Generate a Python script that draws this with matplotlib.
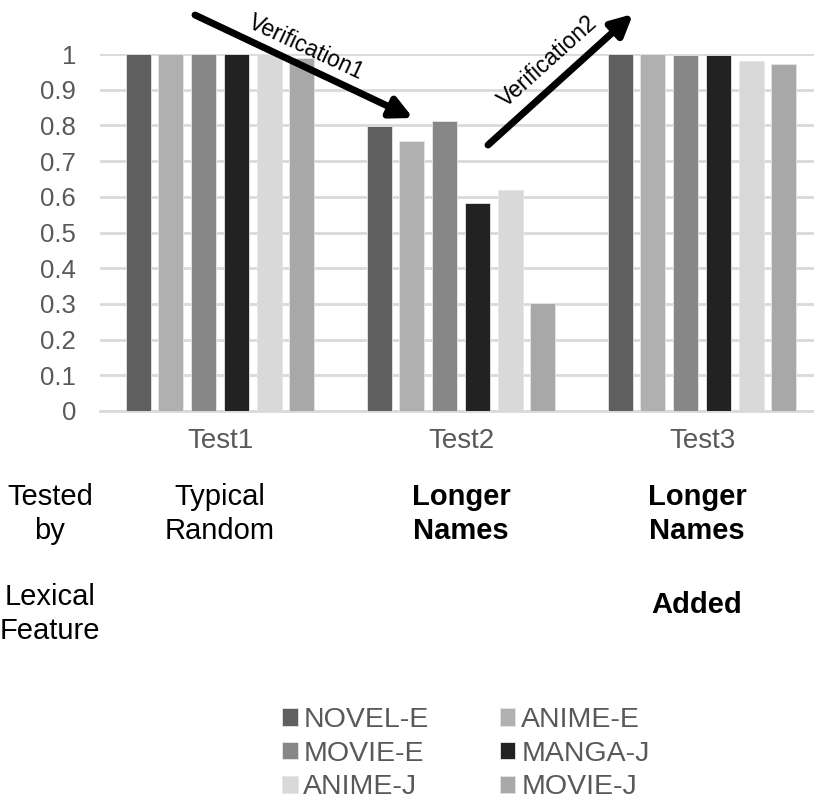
import numpy as np
import matplotlib.pyplot as plt
import matplotlib.patheffects as pe

plt.rcParams['font.family'] = ['Liberation Sans', 'DejaVu Sans']

tests = ['Test1', 'Test2', 'Test3']
series = ['NOVEL-E', 'ANIME-E', 'MOVIE-E', 'MANGA-J', 'ANIME-J', 'MOVIE-J']
novel_e = [1.0, 0.797, 1.0]
anime_e = [1.0, 0.756, 1.0]
movie_e = [1.0, 0.813, 0.996]
manga_j = [1.0, 0.582, 0.996]
anime_j = [1.0, 0.618, 0.98]
movie_j = [0.99, 0.303, 0.973]
colors = ['#5f5f5f', '#b0b0b0', '#878787', '#222222', '#d9d9d9', '#a8a8a8']

W, H = 814, 801
fig = plt.figure(figsize=(W / 100, H / 100), dpi=100)
ax = fig.add_axes([99.5 / W, 1 - 411 / H, 723 / W, 357 / H])

x = np.arange(len(tests))
slot = 0.136
bw = 0.104
handles = []
for i, (vals, c) in enumerate(zip([novel_e, anime_e, movie_e, manga_j, anime_j, movie_j], colors)):
    b = ax.bar(x + (i - 2.5) * slot, vals, bw, color=c, label=series[i], zorder=3,
               edgecolor='#e6e6e6', linewidth=0.6)
    handles.append(b)

ax.set_xlim(-0.5, 2.5)
ax.set_ylim(0, 1)
ax.set_yticks(np.arange(0, 1.01, 0.1))
ax.set_yticklabels(['0', '0.1', '0.2', '0.3', '0.4', '0.5', '0.6', '0.7', '0.8', '0.9', '1'])
ax.set_xticks(x)
ax.set_xticklabels(tests)
ax.grid(axis='y', color='#d9d9d9', linewidth=2, zorder=0)
ax.set_axisbelow(True)
for s in ['top', 'right', 'left']:
    ax.spines[s].set_visible(False)
ax.spines['bottom'].set_color('#d9d9d9')
ax.spines['bottom'].set_linewidth(2)
ax.tick_params(axis='y', length=0, pad=17, labelsize=18.5, labelcolor='#595959')
ax.tick_params(axis='x', length=0, pad=12, labelsize=20, labelcolor='#595959')

def fx(px):
    return px / W

def fy(py):
    return 1 - py / H

# arrows
shadow = [pe.SimplePatchShadow(offset=(2, -2), alpha=0.25), pe.Normal()]
a1 = fig.add_artist(plt.matplotlib.patches.FancyArrowPatch(
    (fx(195), fy(15)), (fx(413), fy(118)), transform=fig.transFigure,
    arrowstyle='-|>', mutation_scale=32, lw=5, color='black', shrinkA=0, shrinkB=0))
a1.set_path_effects(shadow)
a2 = fig.add_artist(plt.matplotlib.patches.FancyArrowPatch(
    (fx(488), fy(145)), (fx(633), fy(14)), transform=fig.transFigure,
    arrowstyle='-|>', mutation_scale=32, lw=5, color='black', shrinkA=0, shrinkB=0))
a2.set_path_effects(shadow)
fig.text(fx(306), fy(47), 'Verification1', rotation=-25, ha='center', va='center',
         fontsize=16.5, color='black', rotation_mode='anchor')
fig.text(fx(548), fy(61), 'Verification2', rotation=42, ha='center', va='center',
         fontsize=16.5, color='black', rotation_mode='anchor')

# text table below the axis
kw = dict(ha='center', va='center', fontsize=21, linespacing=1.25)
fig.text(fx(50), fy(514), 'Tested\nby', **kw)
fig.text(fx(50), fy(614), 'Lexical\nFeature', **kw)
fig.text(fx(220), fy(514), 'Typical\nRandom', **kw)
fig.text(fx(461), fy(514), 'Longer\nNames', fontweight='bold', **kw)
fig.text(fx(697), fy(514), 'Longer\nNames', fontweight='bold', **kw)
fig.text(fx(697), fy(605), 'Added', fontweight='bold', **kw)

order = [0, 2, 4, 1, 3, 5]
leg = fig.legend([handles[i] for i in order], [series[i] for i in order],
                 loc='upper left', bbox_to_anchor=(fx(282), fy(707)), ncol=2,
                 frameon=False, fontsize=20.5, handlelength=0.55, handleheight=0.55,
                 handletextpad=0.2, columnspacing=2.5, labelspacing=0.27,
                 borderpad=0, borderaxespad=0)
for t in leg.get_texts():
    t.set_color('#595959')

plt.savefig('out.png', dpi=100)
